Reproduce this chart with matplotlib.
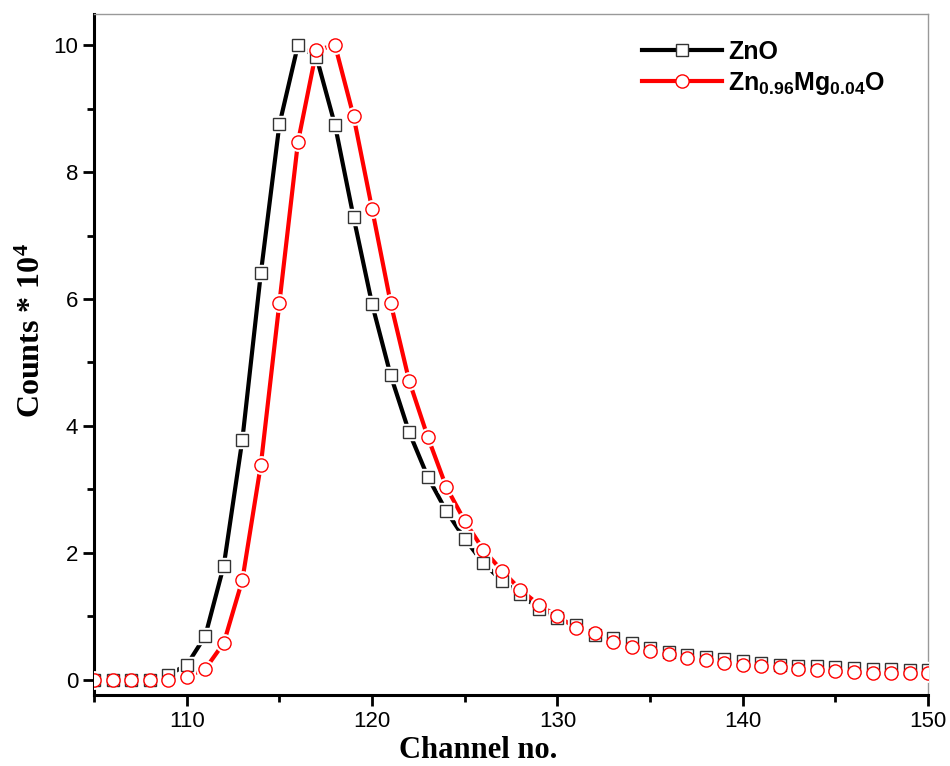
import numpy as np
import matplotlib
matplotlib.use('Agg')
import matplotlib.pyplot as plt
from matplotlib.ticker import MultipleLocator

plt.rcParams['mathtext.default'] = 'regular'

# ── Data ──────────────────────────────────────────────────────────────────────
channel = np.arange(105, 151)

zno = [0, 0, 0, 0, 0.08, 0.23, 0.69, 1.80, 3.78, 6.41,
       8.75, 10.0, 9.81, 8.74, 7.29, 5.92, 4.80, 3.90, 3.20, 2.66,
       2.22, 1.84, 1.56, 1.35, 1.12, 0.98, 0.87, 0.71, 0.66, 0.58,
       0.50, 0.44, 0.39, 0.36, 0.33, 0.29, 0.27, 0.24, 0.22, 0.21,
       0.20, 0.19, 0.17, 0.17, 0.16, 0.15]

znmgo = [0, 0, 0, 0, 0, 0.05, 0.17, 0.58, 1.57, 3.39,
         5.94, 8.47, 9.92, 10.0, 8.88, 7.42, 5.94, 4.71, 3.83, 3.04,
         2.50, 2.05, 1.72, 1.42, 1.18, 1.00, 0.82, 0.74, 0.60, 0.52,
         0.46, 0.41, 0.35, 0.31, 0.27, 0.24, 0.21, 0.20, 0.17, 0.16,
         0.14, 0.13, 0.11, 0.11, 0.10, 0.10]

# connecting line only spans the peak region
zno_line = (109, 130)
znmgo_line = (110, 131)

# ── Plot ──────────────────────────────────────────────────────────────────────
fig = plt.figure(figsize=(9.5, 7.66), dpi=100)
ax = fig.add_axes([0.099, 0.0927, 0.878, 0.889])

series = [
    (zno, zno_line, 'black', 's', '#333333', 8.5, 'ZnO'),
    (znmgo, znmgo_line, 'red', 'o', 'red', 9.5, r'Zn$_{0.96}$Mg$_{0.04}$O'),
]
for vals, (c0, c1), col, mk, edge, ms, lab in series:
    vals = np.array(vals)
    m = (channel >= c0) & (channel <= c1)
    ax.plot(channel[m], vals[m], color=col, lw=3, zorder=2)
    # white halo to leave small gaps around markers
    ax.plot(channel, vals, ls='none', marker=mk, ms=ms + 3, mfc='white',
            mec='white', zorder=3)
    ax.plot(channel, vals, ls='none', marker=mk, ms=ms, mfc='white',
            mec=edge, mew=1.0, zorder=4)
    ax.plot([], [], color=col, lw=3, marker=mk, ms=ms, mfc='white',
            mec=edge, mew=1.0, label=lab)

ax.set_xlim(105, 150)
ax.set_ylim(-0.24, 10.49)
ax.xaxis.set_major_locator(MultipleLocator(10))
ax.xaxis.set_minor_locator(MultipleLocator(5))
ax.yaxis.set_major_locator(MultipleLocator(2))
ax.yaxis.set_minor_locator(MultipleLocator(1))

for s in ['left', 'bottom']:
    ax.spines[s].set_linewidth(2.2)
for s in ['top', 'right']:
    ax.spines[s].set_linewidth(1.0)
    ax.spines[s].set_color('#999999')

ax.tick_params(which='major', direction='out', length=8, width=2,
               labelsize=16, top=False, right=False)
ax.tick_params(which='minor', direction='out', length=5, width=2,
               top=False, right=False)
for t in ax.get_xticklabels() + ax.get_yticklabels():
    t.set_fontfamily('Liberation Sans')

ax.set_xlabel('Channel no.', family='Liberation Serif', weight='bold',
              fontsize=22)
ax.set_ylabel(r'Counts * 10$^{4}$', family='Liberation Serif', weight='bold',
              fontsize=23)
ax.xaxis.set_label_coords(0.46, -0.06, transform=ax.transAxes)
ax.yaxis.set_label_coords(-0.056, 0.535, transform=ax.transAxes)

leg = ax.legend(loc='upper right', bbox_to_anchor=(0.975, 0.995), frameon=False,
                numpoints=1, handlelength=3.2, handletextpad=0.25,
                labelspacing=0.25,
                prop={'family': 'Liberation Sans', 'weight': 'bold', 'size': 18})

fig.savefig('out.png', dpi=100)
